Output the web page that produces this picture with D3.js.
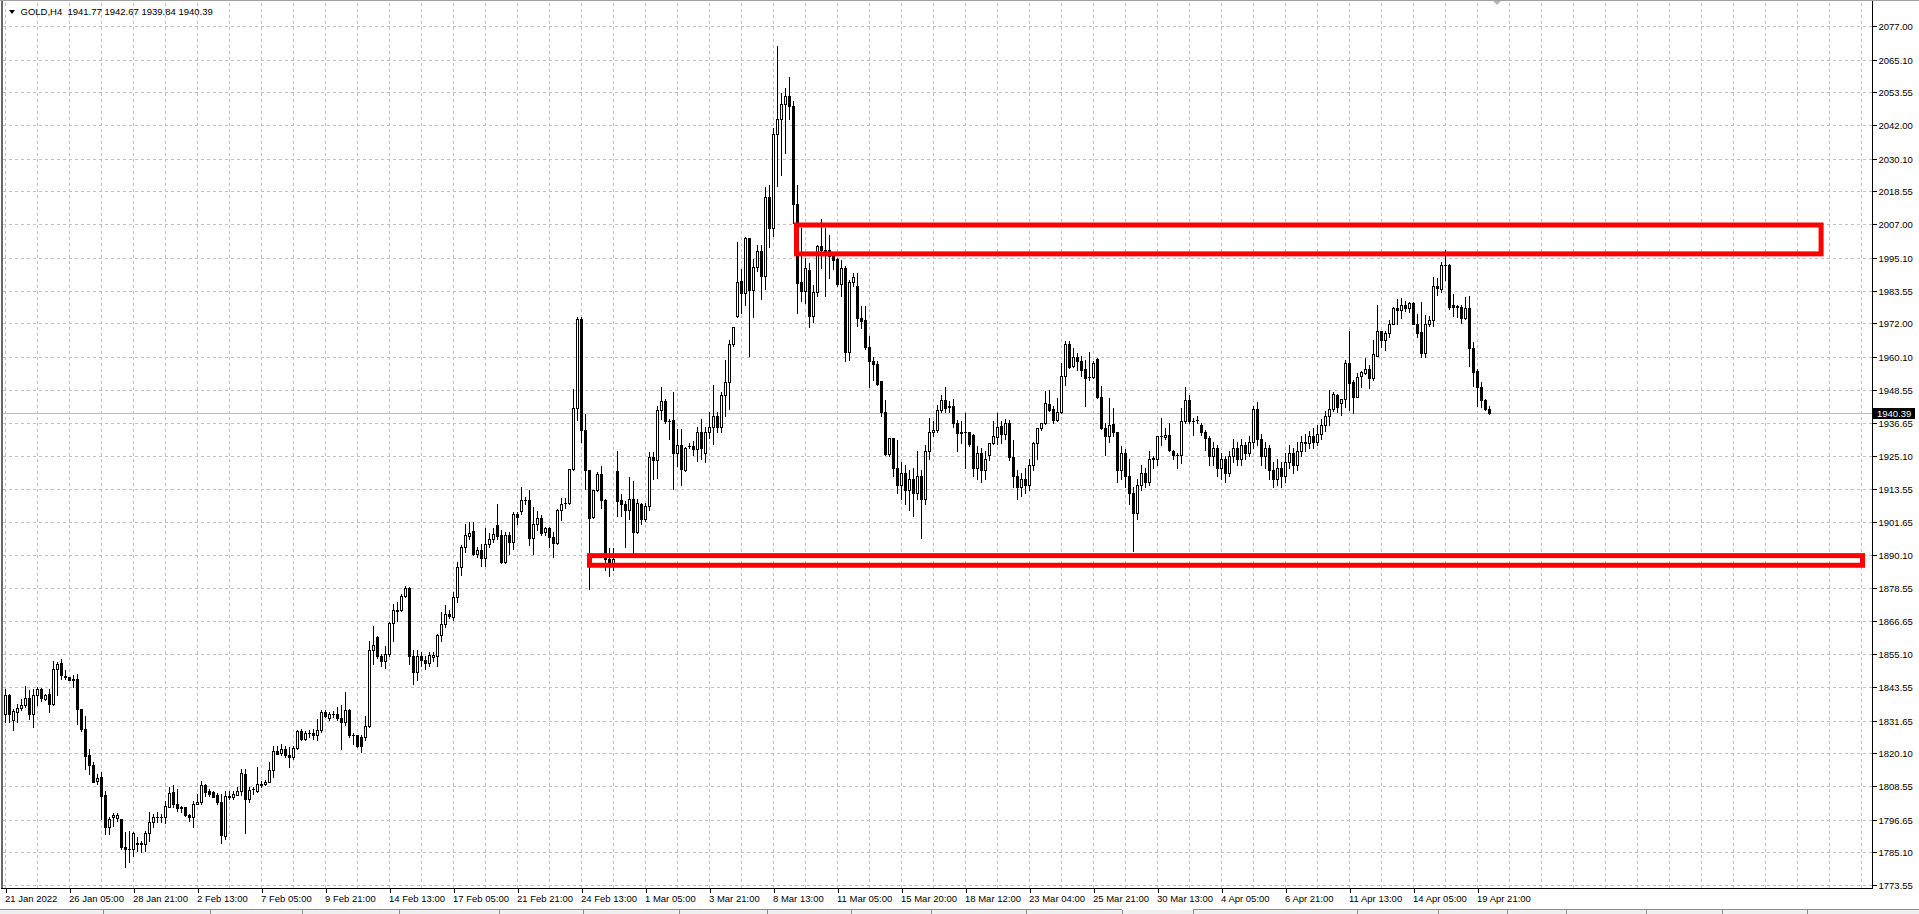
<!DOCTYPE html>
<html><head><meta charset="utf-8">
<script src="https://cdn.jsdelivr.net/npm/d3@7"></script>
<style>html,body{margin:0;padding:0;background:#fff;overflow:hidden}text{font-family:"Liberation Sans",Arial,sans-serif}</style>
</head><body><svg id="c" width="1919" height="914"></svg>
<script>
const symbolTitle = "GOLD,H4";
const lastOHLC = ["1941.77", "1942.67", "1939.84", "1940.39"];
const xLabels = ["21 Jan 2022","26 Jan 05:00","28 Jan 21:00","2 Feb 13:00","7 Feb 05:00","9 Feb 21:00","14 Feb 13:00","17 Feb 05:00","21 Feb 21:00","24 Feb 13:00","1 Mar 05:00","3 Mar 21:00","8 Mar 13:00","11 Mar 05:00","15 Mar 20:00","18 Mar 12:00","23 Mar 04:00","25 Mar 21:00","30 Mar 13:00","4 Apr 05:00","6 Apr 21:00","11 Apr 13:00","14 Apr 05:00","19 Apr 21:00"];
const yTicks = [2077.00,2065.10,2053.55,2042.00,2030.10,2018.55,2007.00,1995.10,1983.55,1972.00,1960.10,1948.55,1936.65,1925.10,1913.55,1901.65,1890.10,1878.55,1866.65,1855.10,1843.55,1831.65,1820.10,1808.55,1796.65,1785.10,1773.55];
const currentPrice = 1940.39;

const opens = [1833.8,1840.5,1831.9,1834.6,1836.0,1837.2,1839.7,1833.8,1840.5,1842.9,
1839.3,1841.1,1837.6,1849.9,1851.9,1847.4,1847.0,1846.3,1846.4,1835.8,
1828.7,1819.6,1816.1,1810.2,1811.6,1805.5,1793.9,1797.5,1797.1,1796.9,
1786.9,1786.4,1786.3,1788.3,1788.2,1788.0,1791.8,1795.7,1797.5,1797.4,
1797.5,1801.0,1806.3,1802.2,1801.0,1801.0,1798.4,1797.5,1802.2,1802.8,
1808.9,1806.7,1806.3,1805.5,1803.0,1791.0,1804.9,1804.6,1805.5,1806.9,
1812.8,1803.9,1807.5,1806.9,1809.0,1809.1,1809.9,1814.0,1821.0,1820.1,
1821.6,1819.3,1818.7,1822.0,1827.9,1825.2,1827.2,1827.2,1826.6,1828.4,
1834.6,1832.6,1834.0,1834.0,1832.6,1831.1,1835.2,1826.7,1826.6,1825.8,
1825.8,1829.6,1856.5,1861.3,1854.5,1852.8,1855.1,1866.1,1870.6,1870.7,
1875.8,1878.5,1854.6,1848.8,1854.6,1853.1,1852.0,1854.0,1854.6,1861.7,
1865.8,1869.4,1868.2,1875.3,1885.9,1893.0,1896.9,1898.5,1890.6,1891.8,
1889.1,1894.1,1895.9,1900.6,1897.1,1887.7,1897.1,1894.8,1904.5,1905.7,
1909.6,1909.7,1896.1,1901.2,1903.3,1898.2,1899.5,1896.5,1894.5,1906.0,
1908.4,1908.6,1920.6,1941.9,1973.4,1934.2,1920.1,1903.5,1913.2,1918.9,
1909.7,1888.6,1887.3,1919.7,1909.4,1908.2,1905.9,1910.0,1898.2,1908.2,
1902.9,1907.5,1924.9,1923.7,1941.5,1944.5,1937.4,1937.7,1926.3,1929.1,
1920.1,1928.7,1928.7,1927.4,1933.5,1926.3,1933.5,1935.5,1939.1,1935.5,
1946.8,1951.3,1964.8,1974.4,1986.9,1982.8,2002.1,1983.7,1992.0,1997.4,
1988.8,2016.5,2005.5,2039.0,2044.1,2049.6,2052.1,2048.6,2014.2,1986.5,
1983.3,1990.9,1974.4,1983.0,1999.4,1997.6,1997.8,1995.7,1994.8,1985.9,
1991.5,1961.7,1986.6,1985.3,1973.8,1973.2,1963.5,1958.7,1957.6,1951.7,
1940.8,1925.7,1931.4,1921.0,1915.0,1919.0,1913.0,1917.0,1912.0,1918.0,
1910.0,1926.9,1933.4,1934.3,1941.4,1944.9,1942.6,1942.6,1936.7,1933.4,
1933.5,1933.7,1932.6,1921.0,1926.0,1920.0,1925.6,1929.7,1931.8,1935.8,
1932.7,1936.7,1924.9,1918.0,1914.0,1917.0,1915.0,1922.0,1929.6,1934.9,
1936.6,1943.5,1941.6,1937.9,1940.5,1953.2,1964.6,1956.9,1960.0,1958.5,
1955.8,1953.1,1953.0,1959.3,1945.9,1935.0,1932.0,1936.4,1933.7,1920.0,
1926.3,1918.0,1912.0,1905.0,1915.0,1919.0,1916.0,1924.0,1924.0,1932.1,
1931.8,1932.6,1926.7,1925.5,1925.5,1937.3,1944.9,1937.6,1937.7,1936.1,
1933.7,1931.4,1925.0,1928.0,1921.0,1924.0,1919.0,1925.0,1928.0,1924.0,
1929.0,1926.0,1930.0,1941.7,1931.0,1925.0,1928.0,1920.0,1917.0,1921.0,
1918.0,1923.0,1926.0,1922.0,1927.0,1930.0,1929.6,1932.0,1930.0,1933.0,
1936.0,1939.2,1941.7,1946.5,1943.9,1945.1,1957.9,1951.2,1946.1,1953.3,
1954.4,1955.9,1952.7,1960.6,1969.1,1966.2,1968.5,1971.6,1977.5,1976.8,
1978.3,1977.5,1979.3,1971.8,1968.9,1961.4,1971.6,1973.3,1985.0,1984.2,
1992.5,1992.5,1978.3,1977.9,1977.9,1973.9,1977.4,1963.3,1955.0,1949.4,
1944.9,1941.77];

const highs = [1842.9,1841.1,1835.8,1837.6,1839.3,1843.8,1842.3,1842.9,1843.5,1843.2,
1841.1,1842.9,1852.6,1852.3,1853.5,1849.4,1847.2,1847.9,1848.2,1835.8,
1833.1,1821.7,1816.9,1812.8,1813.4,1806.9,1797.5,1798.9,1799.0,1796.9,
1792.2,1792.8,1792.2,1790.6,1789.2,1792.5,1799.2,1798.7,1799.2,1798.7,
1803.4,1808.1,1808.7,1807.5,1801.6,1801.0,1798.7,1803.4,1805.7,1810.2,
1809.3,1807.5,1806.7,1806.0,1805.7,1806.9,1806.9,1806.9,1808.1,1814.6,
1814.6,1808.1,1808.1,1815.2,1810.4,1810.5,1816.9,1822.8,1822.8,1823.4,
1822.8,1822.2,1822.8,1828.4,1828.7,1828.1,1828.4,1828.7,1832.3,1835.4,
1835.2,1834.6,1835.0,1836.4,1837.0,1841.7,1835.8,1827.2,1826.6,1826.4,
1833.1,1859.8,1865.1,1861.6,1855.1,1858.1,1866.3,1872.8,1873.4,1876.4,
1879.3,1878.8,1856.4,1856.4,1855.8,1854.6,1855.8,1855.8,1862.3,1869.9,
1872.3,1870.6,1877.1,1887.7,1893.6,1901.2,1901.8,1901.7,1893.0,1894.1,
1899.5,1897.9,1899.5,1908.0,1898.9,1898.3,1898.3,1905.4,1905.4,1914.2,
1910.6,1913.0,1907.1,1905.7,1904.1,1900.1,1900.1,1898.3,1906.5,1910.1,
1910.1,1920.6,1948.6,1974.3,1974.3,1940.1,1920.1,1913.2,1919.5,1921.4,
1909.8,1892.5,1892.5,1926.8,1911.7,1909.1,1917.7,1916.4,1910.0,1908.5,
1908.5,1926.5,1926.5,1942.6,1949.6,1945.2,1938.1,1947.7,1934.6,1934.6,
1928.4,1929.6,1930.3,1935.5,1938.3,1935.5,1940.6,1950.3,1940.6,1947.7,
1958.9,1966.1,1970.5,2000.6,1991.0,2002.6,2002.1,1994.6,1999.8,1999.8,
2020.3,2021.0,2040.9,2069.8,2053.5,2055.1,2058.9,2050.5,2021.0,2005.6,
1995.0,1993.3,1985.6,1999.8,2008.9,2005.7,2003.3,1996.5,1995.2,1994.4,
1992.1,1987.4,1989.8,1989.8,1978.0,1978.0,1967.6,1960.2,1958.5,1951.7,
1945.0,1931.4,1931.4,1930.8,1923.0,1922.0,1920.0,1921.0,1927.0,1920.0,
1929.0,1938.5,1937.3,1943.2,1946.7,1949.4,1944.4,1945.2,1937.9,1937.3,
1940.2,1933.7,1933.0,1928.7,1928.0,1927.0,1929.7,1937.3,1940.2,1937.3,
1938.1,1937.9,1930.8,1920.0,1919.0,1921.0,1924.0,1930.0,1935.1,1936.9,
1948.1,1948.4,1942.8,1945.5,1957.9,1965.6,1965.6,1963.2,1961.4,1960.3,
1959.0,1961.7,1958.5,1959.6,1949.7,1936.7,1945.5,1942.0,1933.7,1928.7,
1927.4,1924.1,1914.0,1917.0,1922.0,1921.0,1927.0,1925.0,1932.0,1938.5,
1935.1,1936.7,1927.3,1926.0,1942.0,1949.6,1946.7,1938.5,1939.1,1936.7,
1934.3,1932.0,1930.0,1929.0,1926.0,1925.0,1927.0,1931.0,1930.0,1931.0,
1930.0,1932.0,1942.9,1944.1,1933.0,1930.0,1929.0,1923.0,1924.0,1923.0,
1926.0,1929.0,1928.0,1930.0,1932.0,1933.0,1934.0,1935.0,1936.0,1938.0,
1941.0,1948.3,1947.7,1947.1,1945.3,1958.9,1969.2,1951.8,1954.4,1955.1,
1959.8,1957.1,1965.9,1978.3,1969.3,1969.3,1973.0,1977.9,1980.7,1981.0,
1979.8,1979.6,1979.6,1975.4,1979.5,1974.8,1974.5,1988.3,1988.1,1993.6,
1998.0,1993.1,1982.2,1978.6,1978.3,1981.3,1981.5,1965.3,1956.0,1951.2,
1945.3,1942.67];

const lows = [1831.1,1831.1,1828.4,1831.1,1835.2,1836.4,1832.3,1829.3,1837.0,1838.7,
1839.0,1834.6,1837.0,1840.5,1846.4,1846.4,1845.8,1843.5,1830.5,1828.1,
1814.6,1812.8,1809.9,1809.3,1796.9,1791.6,1791.6,1794.5,1796.3,1786.3,
1779.8,1781.6,1783.9,1785.7,1785.1,1785.7,1789.2,1793.9,1795.7,1795.7,
1795.4,1801.0,1801.0,1799.8,1799.2,1798.1,1796.3,1793.9,1802.2,1802.2,
1805.1,1805.1,1804.5,1802.2,1788.3,1789.8,1804.0,1804.0,1805.2,1805.2,
1791.8,1802.8,1805.7,1806.3,1808.1,1809.0,1809.9,1811.6,1819.9,1819.3,
1818.7,1815.2,1818.1,1821.7,1824.6,1824.8,1825.8,1825.2,1824.6,1827.5,
1832.8,1831.7,1832.8,1831.7,1821.7,1829.9,1825.8,1823.4,1822.2,1820.5,
1824.6,1829.3,1851.6,1853.9,1851.0,1850.2,1854.5,1859.9,1866.9,1870.5,
1875.2,1851.6,1844.6,1845.8,1851.0,1850.0,1851.0,1852.8,1851.0,1859.9,
1864.7,1867.7,1867.0,1873.5,1883.0,1891.2,1895.9,1890.0,1889.4,1886.1,
1886.1,1893.0,1894.7,1895.9,1887.3,1887.3,1890.6,1892.4,1901.2,1904.7,
1908.3,1893.5,1890.6,1898.9,1897.1,1897.1,1892.9,1889.4,1894.1,1902.4,
1906.9,1908.3,1920.1,1937.8,1930.1,1913.6,1878.0,1903.3,1912.6,1906.6,
1884.7,1882.8,1885.0,1904.0,1904.0,1893.1,1902.7,1890.5,1898.0,1901.0,
1902.0,1906.0,1917.0,1917.3,1938.1,1936.8,1931.0,1913.4,1921.7,1914.7,
1919.9,1928.0,1925.5,1923.5,1923.9,1923.1,1931.6,1929.2,1933.5,1933.5,
1939.1,1941.8,1964.0,1974.2,1975.6,1978.6,1960.3,1974.1,1990.5,1980.5,
1984.0,1999.1,2002.9,2020.6,2024.5,2032.2,2044.1,2007.5,1975.6,1979.8,
1979.3,1970.5,1972.6,1981.5,1991.5,1981.5,1988.0,1991.2,1985.3,1981.5,
1958.5,1958.9,1985.0,1970.9,1970.3,1962.9,1949.3,1952.0,1950.3,1939.3,
1925.5,1925.0,1918.0,1912.0,1910.0,1908.0,1906.0,1904.0,1910.0,1896.0,
1908.0,1924.0,1932.0,1933.7,1940.8,1940.8,1940.8,1935.5,1927.0,1929.6,
1921.0,1928.5,1918.0,1917.0,1916.0,1917.0,1923.7,1929.2,1929.4,1929.6,
1931.0,1923.7,1914.0,1910.0,1911.0,1912.0,1913.0,1920.0,1923.9,1934.3,
1936.3,1941.0,1936.9,1937.3,1940.3,1950.1,1956.1,1956.7,1955.5,1953.2,
1942.8,1952.0,1952.6,1945.5,1934.6,1925.5,1930.2,1932.0,1916.0,1917.0,
1914.0,1908.0,1891.7,1903.0,1913.0,1914.0,1915.0,1921.0,1922.0,1929.0,
1931.2,1926.7,1924.0,1921.0,1922.8,1936.7,1936.7,1932.6,1936.7,1932.6,
1927.3,1922.0,1922.0,1918.0,1917.0,1916.0,1918.0,1923.0,1922.0,1922.0,
1924.0,1925.0,1928.0,1929.0,1922.0,1921.0,1917.0,1914.0,1915.0,1914.0,
1916.0,1921.0,1919.0,1920.0,1925.0,1927.0,1928.0,1928.0,1929.0,1931.0,
1934.0,1936.0,1941.1,1940.6,1939.6,1942.4,1941.2,1940.4,1945.9,1949.6,
1954.1,1949.2,1952.0,1960.4,1963.6,1962.4,1967.1,1971.6,1971.6,1973.9,
1976.2,1975.9,1971.8,1967.1,1960.0,1960.0,1970.9,1970.9,1981.9,1983.1,
1987.4,1977.1,1974.4,1974.2,1972.0,1973.5,1957.0,1950.0,1942.9,1942.4,
1941.2,1939.84];

const closes = [1840.5,1834.0,1834.9,1836.0,1837.2,1839.7,1833.8,1840.7,1842.9,1839.7,
1840.5,1837.6,1849.9,1851.7,1847.8,1847.2,1846.1,1846.1,1835.6,1828.7,
1819.0,1815.8,1809.9,1811.4,1805.1,1793.9,1796.9,1798.4,1798.4,1786.9,
1786.3,1786.2,1791.8,1788.2,1788.4,1791.8,1795.7,1797.5,1797.4,1797.6,
1801.3,1806.0,1802.2,1800.7,1800.9,1798.3,1797.5,1802.2,1802.8,1808.9,
1806.3,1805.7,1804.8,1802.8,1791.2,1805.1,1804.8,1805.7,1806.9,1813.0,
1803.9,1807.1,1807.4,1809.3,1809.1,1809.9,1814.0,1821.0,1819.9,1821.6,
1819.3,1818.7,1822.0,1827.9,1825.2,1827.2,1827.1,1826.4,1828.4,1834.6,
1833.1,1834.0,1834.1,1832.6,1831.1,1835.2,1826.4,1826.6,1822.5,1822.5,
1829.6,1856.5,1858.4,1854.5,1852.8,1855.1,1866.1,1870.7,1870.5,1875.8,
1878.5,1854.6,1848.8,1854.6,1853.1,1852.0,1854.8,1854.8,1861.7,1865.8,
1869.4,1868.5,1875.3,1885.9,1893.0,1897.1,1898.0,1890.6,1891.8,1889.1,
1894.1,1895.9,1897.7,1896.7,1887.7,1897.1,1894.8,1904.5,1903.6,1909.5,
1909.7,1896.1,1901.2,1903.3,1898.0,1899.5,1896.5,1894.5,1906.0,1908.3,
1908.6,1920.6,1941.9,1973.4,1934.2,1920.1,1903.3,1913.2,1918.9,1909.7,
1888.6,1887.3,1888.8,1909.2,1908.2,1905.9,1910.0,1898.2,1908.5,1902.9,
1907.5,1924.9,1923.7,1941.5,1944.5,1937.4,1937.3,1926.3,1929.1,1920.4,
1928.1,1928.6,1927.4,1933.5,1927.8,1933.5,1935.5,1939.1,1935.5,1946.8,
1951.3,1964.8,1970.5,1986.5,1982.8,2002.1,1983.7,1992.0,1997.4,1988.8,
2016.5,2005.5,2039.0,2044.1,2049.6,2052.1,2048.6,2014.2,1986.3,1983.3,
1991.4,1974.4,1983.0,1999.4,1997.8,1997.8,1995.7,1994.2,1985.9,1991.5,
1961.7,1986.6,1988.3,1973.8,1972.9,1963.5,1958.5,1957.6,1950.6,1940.8,
1925.7,1931.4,1921.0,1915.0,1919.0,1913.0,1917.0,1912.0,1918.0,1910.0,
1926.9,1933.7,1934.3,1941.4,1944.9,1942.0,1942.5,1936.7,1933.2,1933.3,
1933.7,1929.4,1921.0,1926.0,1920.0,1924.0,1929.7,1932.1,1935.5,1932.7,
1936.7,1924.9,1918.0,1914.0,1917.0,1915.0,1922.0,1929.6,1934.9,1936.7,
1943.7,1941.4,1937.9,1940.8,1953.2,1964.6,1956.7,1959.9,1958.5,1955.5,
1952.6,1953.0,1957.9,1945.9,1935.0,1932.0,1936.1,1933.4,1920.0,1926.3,
1918.0,1912.0,1905.0,1915.0,1919.0,1916.0,1924.0,1924.5,1932.0,1932.3,
1932.6,1927.3,1925.5,1925.3,1937.3,1944.9,1937.3,1937.4,1937.9,1933.7,
1931.4,1925.0,1928.0,1921.0,1924.0,1919.0,1925.0,1928.0,1924.0,1929.0,
1926.0,1930.0,1941.7,1931.0,1925.0,1928.0,1920.0,1917.0,1921.0,1918.0,
1923.0,1926.0,1922.0,1927.0,1930.0,1929.6,1932.0,1930.0,1933.0,1936.0,
1939.4,1941.7,1947.1,1942.4,1945.1,1957.9,1950.8,1946.1,1952.9,1954.7,
1955.9,1952.7,1961.0,1969.1,1966.2,1968.5,1971.8,1977.5,1976.8,1978.3,
1977.5,1979.3,1971.8,1968.5,1961.4,1971.6,1973.3,1985.0,1984.6,1992.5,
1992.4,1977.7,1977.7,1978.0,1973.9,1977.4,1963.2,1954.7,1949.4,1944.9,
1941.7,1940.39];

// drawn rectangles (bar index positions and price levels)
const zoneStartBar = [197.75, 146];
const zoneEndBar = [453.9, 464.25];
const zoneTopPrice = [2006.7, 1889.9];
const zoneBottomPrice = [1996.5, 1886.5];

const svg = d3.select("#c");
const W = 1919, H = 914;
const plotRight = 1872, plotBottom = 888;
const nBars = opens.length;

const x = d3.scaleLinear().domain([0, nBars - 1]).range([5.5, 5.5 + 4 * (nBars - 1)]);
const y = d3.scaleLinear().domain([1773.55, 2077]).range([885, 26]);

svg.append("rect").attr("width", W).attr("height", H).attr("fill", "#fff");

// grid
const grid = svg.append("g").attr("shape-rendering", "crispEdges");
grid.selectAll("line.h").data(yTicks).join("line")
  .attr("x1", 3).attr("x2", plotRight)
  .attr("y1", d => Math.round(y(d)) + 0.5).attr("y2", d => Math.round(y(d)) + 0.5)
  .attr("stroke", "#c0c0c0").attr("stroke-dasharray", "3,3");
const vIdx = d3.range(0, 470, 8).filter(i => x(i) < plotRight - 2);
grid.selectAll("line.v").data(vIdx).join("line")
  .attr("x1", d => x(d)).attr("x2", d => x(d))
  .attr("y1", 3).attr("y2", plotBottom)
  .attr("stroke", "#c0c0c0").attr("stroke-dasharray", "3,3");

// current price line
svg.append("line").attr("x1", 3).attr("x2", plotRight)
  .attr("y1", Math.round(y(currentPrice)) + 0.5).attr("y2", Math.round(y(currentPrice)) + 0.5)
  .attr("stroke", "#c0c0c0").attr("shape-rendering", "crispEdges");

// candles
const bars = d3.range(nBars).map(i => ({i, o: opens[i], h: highs[i], l: lows[i], c: closes[i]}));
const cg = svg.append("g").attr("shape-rendering", "crispEdges");
cg.selectAll("line.w").data(bars).join("line")
  .attr("x1", d => x(d.i)).attr("x2", d => x(d.i))
  .attr("y1", d => Math.round(y(d.h))).attr("y2", d => Math.round(y(d.l)) + 1)
  .attr("stroke", "#000");
cg.selectAll("rect.b").data(bars).join("rect")
  .each(function(d) {
    const sel = d3.select(this);
    const yo = Math.round(y(d.o)), yc = Math.round(y(d.c));
    if (d.c > d.o && yo - yc >= 1) {
      sel.attr("x", x(d.i) - 1).attr("width", 2)
        .attr("y", yc + 0.5).attr("height", yo - yc)
        .attr("fill", "#fff").attr("stroke", "#000").attr("stroke-width", 1);
    } else if (d.c < d.o && yc - yo >= 1) {
      sel.attr("x", x(d.i) - 1.5).attr("width", 3)
        .attr("y", yo).attr("height", yc - yo + 1).attr("fill", "#000");
    } else {
      sel.attr("x", x(d.i) - 1.5).attr("width", 3)
        .attr("y", yo).attr("height", 1).attr("fill", "#000");
    }
  });

// red zones
const zones = zoneStartBar.map((s, k) => ({s, e: zoneEndBar[k], t: zoneTopPrice[k], b: zoneBottomPrice[k]}));
svg.selectAll("rect.z").data(zones).join("rect")
  .attr("x", d => x(d.s)).attr("width", d => x(d.e) - x(d.s))
  .attr("y", d => y(d.t)).attr("height", d => y(d.b) - y(d.t))
  .attr("fill", "none").attr("stroke", "#ff0000").attr("stroke-width", 5);

// frame
const fr = svg.append("g").attr("shape-rendering", "crispEdges");
fr.append("line").attr("x1", 0).attr("x2", W).attr("y1", 0.5).attr("y2", 0.5).attr("stroke", "#a0a0a0");
fr.append("rect").attr("x", 1).attr("y", 1).attr("width", 2).attr("height", plotBottom - 1).attr("fill", "#696969");
fr.append("line").attr("x1", plotRight + 0.5).attr("x2", plotRight + 0.5).attr("y1", 1).attr("y2", plotBottom + 1).attr("stroke", "#000");
fr.append("line").attr("x1", 1).attr("x2", plotRight + 1).attr("y1", plotBottom + 0.5).attr("y2", plotBottom + 0.5).attr("stroke", "#000");

// right axis
const yAxis = d3.axisRight(y).tickValues(yTicks).tickSize(4).tickPadding(2).tickFormat(d => d.toFixed(2));
const ya = svg.append("g").attr("transform", `translate(${plotRight + 0.5},0.5)`).call(yAxis);
ya.select(".domain").remove();
ya.selectAll(".tick line").attr("stroke", "#000").attr("shape-rendering", "crispEdges");
ya.selectAll(".tick text").attr("fill", "#000").style("font-size", "9.5px").attr("dy", "0.34em");
ya.selectAll(".tick").attr("transform", d => `translate(0,${Math.round(y(d))})`);

// current price box
const cy = Math.round(y(currentPrice)) + 0.5;
svg.append("rect").attr("x", plotRight + 1).attr("y", cy - 5.5).attr("width", 42).attr("height", 11).attr("fill", "#000");
svg.append("text").attr("x", plotRight + 5).attr("y", cy).attr("dy", "0.34em").attr("fill", "#fff")
  .style("font-size", "9.5px").text(currentPrice.toFixed(2));

// bottom axis
const labelBars = xLabels.map((_, k) => 16 * k);
const xAxis = d3.axisBottom(x).tickValues(labelBars).tickSize(4).tickFormat((d, k) => xLabels[k]);
const xa = svg.append("g").attr("transform", `translate(0,${plotBottom + 0.5})`).call(xAxis);
xa.select(".domain").remove();
xa.selectAll(".tick line").attr("stroke", "#000").attr("shape-rendering", "crispEdges");
xa.selectAll(".tick text").attr("fill", "#000").style("font-size", "9.5px")
  .attr("text-anchor", "start").attr("x", -1).attr("y", 7).attr("dy", "0.71em");

// title
svg.append("path").attr("d", "M9,10 L15,10 L12,14 Z").attr("fill", "#000");
svg.append("text").attr("x", 20.5).attr("y", 15).style("font-size", "9.5px").style("white-space", "pre")
  .attr("fill", "#000").text(symbolTitle + "  " + lastOHLC.join(" "));

// chart shift marker
svg.append("path").attr("d", "M1493,1 L1501,1 L1497,5 Z").attr("fill", "#b4b4b4");

// bottom tab strip
const stripY = 909.5;
const strip = svg.append("g").attr("shape-rendering", "crispEdges");
strip.append("rect").attr("x", 0).attr("y", 910).attr("width", W).attr("height", 4).attr("fill", "#f0f0f0");
strip.append("line").attr("x1", 0).attr("x2", 1122).attr("y1", stripY).attr("y2", stripY).attr("stroke", "#8c8c8c");
strip.append("line").attr("x1", 1193).attr("x2", W).attr("y1", stripY).attr("y2", stripY).attr("stroke", "#8c8c8c");
const seps = [103, 210, 302, 399, 499, 583, 679, 767, 851, 931, 1026, 1122, 1193, 1357, 1438, 1507, 1566, 1646, 1722, 1807];
strip.selectAll("line.s").data(seps).join("line")
  .attr("x1", d => d + 0.5).attr("x2", d => d + 0.5).attr("y1", 910).attr("y2", 914).attr("stroke", "#8c8c8c");
</script></body></html>
